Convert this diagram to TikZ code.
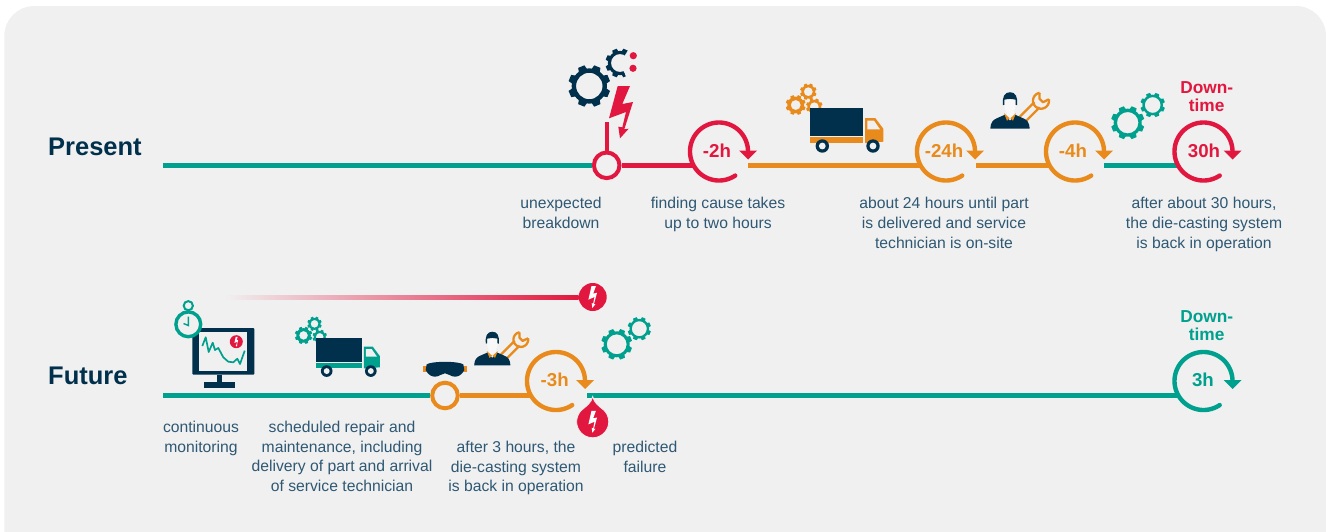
\documentclass[tikz,border=0pt]{standalone}
\usepackage{fontspec}
\setmainfont{Liberation Sans}
\usetikzlibrary{calc}
\definecolor{bgc}{HTML}{F0F0F0}
\definecolor{teal1}{HTML}{00A08E}
\definecolor{red1}{HTML}{E2173F}
\definecolor{orange1}{HTML}{E98B1C}
\definecolor{navy}{HTML}{00304C}
\definecolor{txt}{HTML}{2E5873}
\definecolor{faceC}{HTML}{F8F8F8}
\definecolor{salmon}{HTML}{E88A84}
\tikzset{
  seg/.style={line width=4.4pt,line cap=butt},
  ringnode/.style={circle,inner sep=0pt,outer sep=0pt,minimum size=58pt},
  mile/.style={circle,inner sep=0pt,minimum size=25.6pt,line width=4pt},
  caption/.style={font=\fontsize{15.7}{19.7}\selectfont,text=txt,align=center,anchor=north,inner sep=0pt,
     execute at begin node={\rule{0pt}{13pt}}},
  timelabel/.style={font=\fontsize{18.7}{20}\selectfont\bfseries,inner sep=0pt},
  downlabel/.style={font=\fontsize{17.3}{18.5}\selectfont\bfseries,align=center,inner sep=0pt},
  rowlabel/.style={font=\fontsize{25.5}{28}\selectfont\bfseries,text=navy,anchor=west,inner sep=0pt},
}
% gear: x y R colour holeratio
\newcommand\gearicon[5]{%
  \begin{scope}[shift={(#1,#2)}]
    \fill[#4,even odd rule] (0,0) circle[radius={.84*#3}] (0,0) circle[radius={#5*#3}];
    \foreach \a in {22.5,67.5,...,360}
      \fill[#4,rotate=\a] ({-.21*#3},{.78*#3}) -- ({-.16*#3},{#3}) -- ({.16*#3},{#3}) -- ({.21*#3},{.78*#3}) -- cycle;
  \end{scope}}
% bolt: x y xscale yscale colour
\newcommand\bolticon[5]{%
  \fill[#5,shift={(#1,#2)},xscale=#3,yscale=#4]
    (-3.3,-26) -- (9,-26) -- (1.3,-8) -- (12,-10) -- (3.3,17.3) -- (7.7,16.7) -- (-1,26.3)
    -- (-2.7,14.7) -- (1.3,15.3) -- (5,0) -- (-12,6.3) -- cycle;}
% circular arrow: x y colour
\newcommand\ringarrow[3]{%
  \draw[#3,line width=4.4pt,line cap=round] plot[domain=56:358,samples=90] ({#1+29*cos(\x)},{#2+29*sin(\x)});
  \fill[#3] ({#1+20.2},{#2-.8}) -- ({#1+38},{#2-.8}) -- ({#1+29.1},{#2+8}) -- cycle;}
% truck: x y scale colour
\newcommand\truckicon[4]{%
  \begin{scope}[shift={(#1,#2)},scale=#3]
    \gearicon{-14.3}{-3}{10}{#4}{.5}
    \gearicon{-1.7}{-16.3}{8.3}{#4}{.54}
    \gearicon{4.3}{-1.3}{8.3}{#4}{.54}
    \fill[navy] (0,0) rectangle (53,28);
    \fill[#4] (0,29) rectangle (53,35);
    \fill[#4] (55,10) -- (65.3,10) -- (73.3,20.7) -- (73.3,33.7) -- (55,35) -- cycle;
    \fill[bgc] (57.3,12.7) -- (64,12.7) -- (70,21.3) -- (57.3,21.3) -- cycle;
    \foreach \wx in {12.3,63} {
      \fill[navy] (\wx,38) circle[radius=6.7];
      \fill[bgc] (\wx,38) circle[radius=3.4];
    }
  \end{scope}}
% person with wrench: x y scale
\newcommand\personicon[3]{%
  \begin{scope}[shift={(#1,#2)},scale=#3]
    \draw[orange1,line width=2.3pt,line join=round]
      (9.4,-11.6) -- (24.4,-26.6) plot[domain=-100:-370,samples=30] ({31+8*cos(\x)},{-28+8*sin(\x)});
    \draw[orange1,line width=2.3pt,line join=round]
      (14.6,-6.4) -- (29.6,-21.4);
    \draw[orange1,line width=2.3pt,line join=round]
      (29.6,-35.9) -- (29.5,-30) -- (33,-26.5) -- (38.9,-29.4);
    \fill[navy] (-19.7,0) .. controls (-19.5,-6) and (-17,-9) .. (-13,-10.5) -- (-5,-14) -- (0,-8) -- (5,-14)
      -- (13,-10.5) .. controls (17,-9) and (19.5,-6) .. (19.7,0) -- cycle;
    \fill[faceC] (-3.5,-17) rectangle (3.5,-11);
    \fill[faceC] (0,-23) ellipse[x radius=5.6,y radius=8];
    \fill[orange1] (-6,-15.5) -- (-.3,-10.5) -- (-3,-8) -- cycle;
    \fill[orange1] (6,-15.5) -- (.3,-10.5) -- (3,-8) -- cycle;
    \fill[navy] (-7,-23.5) .. controls (-8,-32) and (-5.5,-36.5) .. (0,-36.5) .. controls (5.5,-36.5) and (8,-32) .. (7,-23.5)
      -- (5.6,-24) -- (5.6,-29) .. controls (2,-30) and (-2,-30) .. (-5.6,-29) -- (-5.6,-24) -- cycle;
  \end{scope}}
\begin{document}
\begin{tikzpicture}[x=1pt,y=-1pt]
\useasboundingbox (0,0) rectangle (1326,531);
\begin{scope}
  \clip (0,0) rectangle (1326,531);
  \fill[bgc] (4.3,6) [rounded corners=30pt] -- (1326,6) -- (1326,600) [sharp corners] -- (4.3,600) [rounded corners=30pt] -- cycle;
\end{scope}

% row labels
\node[rowlabel] (present) at (48,147) {Present};
\node[rowlabel] (future) at (48,376) {Future};

% ---------- Present timeline ----------
\coordinate (p0) at (163,165.3);
\coordinate (stem) at (606.7,122);
\coordinate (o1) at (748,165.3);
\coordinate (o2) at (975.5,165.3);
\coordinate (g1) at (1104,165.3);
\node[mile,draw=red1] (m1) at (606.7,165.3) {};
\node[ringnode] (t1) at (719,151.5) {};
\node[ringnode] (t2) at (946,151.5) {};
\node[ringnode] (t3) at (1075,151.5) {};
\node[ringnode] (t4) at (1203.5,151.5) {};
\draw[seg,teal1] (p0) -- (m1.west);
\draw[seg,red1] (m1.east) -- (m1.east -| t1.208);
\draw[seg,orange1] (o1) -- (o1 -| t2.208);
\draw[seg,orange1] (o2) -- (o2 -| t3.208);
\draw[seg,teal1] (g1) -- (g1 -| t4.208);
\draw[red1,line width=4pt] (m1.north) -- (stem);
\ringarrow{719}{151.5}{red1}
\ringarrow{946}{151.5}{orange1}
\ringarrow{1075}{151.5}{orange1}
\ringarrow{1203.5}{151.5}{red1}
\node[timelabel,text=red1] (l1) at (717,150.5) {-2h};
\node[timelabel,text=orange1] (l2) at (944,150.5) {-24h};
\node[timelabel,text=orange1] (l3) at (1073,150.5) {-4h};
\node[timelabel,text=red1] (l4) at (1204,150.5) {30h};
\node[downlabel,text=red1] (d1) at (1206.7,96.5) {Down-\\time};

% Present icons
\gearicon{589.3}{86}{21}{navy}{.63}
\begin{scope}
  \clip (620,63) -- (636,37) -- (596,37) -- (596,93) -- (633,93) -- cycle;
  \gearicon{620}{63}{14.5}{navy}{.62}
\end{scope}
\fill[red1] (633.3,55.7) circle[radius=3.6];
\fill[red1] (633,68.3) circle[radius=3.6];
\bolticon{621}{112}{1}{1}{red1}
\truckicon{810}{108}{1}{orange1}
\personicon{1010}{128.7}{1}
\gearicon{1127.7}{122.7}{16.7}{teal1}{.64}
\gearicon{1152.7}{105}{12.3}{teal1}{.64}

% Present captions
\node[caption] (c1) at (561,197.3) {unexpected\\breakdown};
\node[caption] (c2) at (718,197.3) {finding cause takes\\up to two hours};
\node[caption] (c3) at (944,197.3) {about 24 hours until part\\is delivered and service\\technician is on-site};
\node[caption] (c4) at (1204,197.3) {after about 30 hours,\\the die-casting system\\is back in operation};

% ---------- Future timeline ----------
\coordinate (f0) at (163,395.5);
\coordinate (g2) at (587,395.5);
\coordinate (gradA) at (225,295);
\node[mile,draw=orange1] (m2) at (445,395.5) {};
\node[ringnode] (t5) at (556,381) {};
\node[ringnode] (t6) at (1203.5,381) {};
\node[circle,fill=red1,inner sep=0pt,minimum size=28pt] (pb) at (592.7,297) {};
\shade[left color=bgc,middle color=salmon,right color=red1] (gradA) rectangle ($(pb.west)+(0,2)$);
\bolticon{592.7}{297}{.36}{.42}{white}
\draw[seg,teal1] (f0) -- (m2.west);
\draw[seg,orange1] (m2.east) -- (m2.east -| t5.210);
\draw[seg,teal1] (g2) -- (g2 -| t6.210);
\ringarrow{556}{381}{orange1}
\ringarrow{1203.5}{381}{teal1}
\node[timelabel,text=orange1] (l5) at (554.7,380) {-3h};
\node[timelabel,text=teal1] (l6) at (1203,380) {3h};
\node[downlabel,text=teal1] (d2) at (1206.7,325.5) {Down-\\time};

% predicted-failure drop
\fill[red1,draw=bgc,line width=.8pt] (592.7,396.5) .. controls (594,403) and (599,406) .. (603.4,409.8)
   -- plot[domain=-48:228,samples=60] ({592.7+16*cos(\x)},{421.7+16*sin(\x)})
   .. controls (586.4,406) and (591.4,403) .. (592.7,396.5) -- cycle;
\bolticon{592.7}{421.7}{.36}{.42}{white}

% monitor and stopwatch
\fill[navy,rounded corners=1pt] (192.3,328) rectangle (254.3,374.7);
\fill[bgc] (199,332) rectangle (247.3,371);
\fill[navy] (217,374.7) rectangle (222.3,382);
\fill[navy] (204,382) rectangle (235,388);
\draw[teal1,line width=1.7pt,line join=round] (202.3,346) -- (205.7,337.3) -- (208.7,352) -- (212.7,342.7) -- (215,350) -- (218.3,348) -- (223.3,357.3) -- (228.3,361.7) -- (233.3,362.3) -- (237.3,358.7) -- (240,364) -- (244.7,350.7);
\fill[red1] (236.3,341.7) circle[radius=6.5];
\bolticon{236.3}{341.7}{.16}{.19}{white}
\draw[teal1,line width=3.4pt,fill=bgc] (188.3,324.3) circle[radius=12.4];
\draw[teal1,line width=2pt] (188.3,305.7) circle[radius=4.6];
\draw[teal1,line width=1.4pt] (188.3,316.5) -- (188.3,325.5) -- (183.5,323.5);

\truckicon{316}{338}{.87}{teal1}

% goggles
\fill[orange1] (423.3,366) rectangle (426.7,371.7);
\fill[orange1] (463.3,366) rectangle (466.7,371.7);
\fill[navy] (426.7,364.3) .. controls (432,361) and (458,361) .. (463.3,364.3) -- (464.3,370) .. controls (462,375) and (458,376.7) .. (455,376.7)
  .. controls (450,376.7) and (449,373.3) .. (445,373.3) .. controls (441,373.3) and (440,376.7) .. (435,376.7) .. controls (432,376.7) and (428,375) .. (425.7,370) -- cycle;
\personicon{492.3}{365.3}{.92}
\gearicon{616.7}{344.3}{15.5}{teal1}{.64}
\gearicon{639.3}{328.7}{11.7}{teal1}{.64}

% Future captions
\node[caption] (c5) at (201,421) {continuous\\monitoring};
\node[caption] (c6) at (342,421) {scheduled repair and\\maintenance, including\\delivery of part and arrival\\of service technician};
\node[caption] (c7) at (516,441) {after 3 hours, the\\die-casting system\\is back in operation};
\node[caption] (c8) at (645,441) {predicted\\failure};
\end{tikzpicture}
\end{document}
